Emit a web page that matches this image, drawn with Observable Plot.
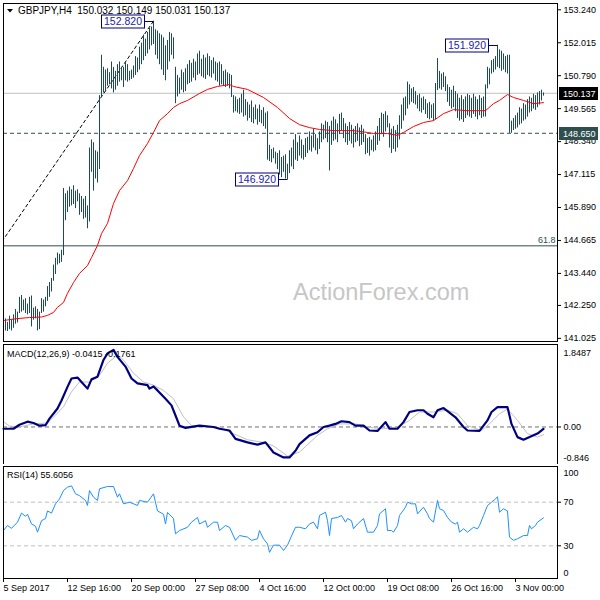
<!DOCTYPE html>
<html><head><meta charset="utf-8">
<script src="https://cdn.jsdelivr.net/npm/d3@7"></script>
<script src="https://cdn.jsdelivr.net/npm/@observablehq/plot@0.6"></script>
<style>
body{margin:0;background:#fff;}
#chart{position:relative;width:600px;height:600px;background:#fff;overflow:hidden;}
#chart svg{position:absolute;left:0;}
</style></head><body><div id="chart"></div>
<script>
// ---------- DATA ----------
const symbolTitle = "GBPJPY,H4  150.032 150.149 150.031 150.137";
const macdTitle = "MACD(12,26,9) -0.0415 -0.1761";
const rsiTitle = "RSI(14) 55.6056";

const highs = [
141.55,141.75,141.62,141.85,141.70,141.90,142.10,142.00,142.55,142.62,
142.45,142.50,142.30,142.55,142.60,142.15,142.20,142.10,142.00,142.50,
142.45,142.55,142.95,143.10,143.25,143.75,144.00,144.20,144.15,144.30,
146.60,146.40,146.50,146.65,146.55,146.70,146.50,146.55,146.40,146.30,
146.20,146.30,145.95,148.10,148.40,148.30,148.00,147.95,150.05,151.55,
151.10,151.00,151.05,150.90,151.30,151.10,150.95,151.20,151.30,151.10,
151.10,151.30,151.20,150.95,151.00,151.15,151.50,151.45,151.85,152.00,
152.30,152.15,152.40,152.55,152.60,152.82,152.50,152.45,152.35,152.30,
152.20,151.90,152.10,152.40,152.35,152.20,151.10,150.80,150.70,151.00,
150.90,151.05,151.20,151.35,151.25,151.40,151.30,151.60,151.70,151.40,
151.55,151.45,151.60,151.50,151.35,151.45,151.30,151.25,151.30,151.20,
150.95,151.00,150.90,150.85,150.80,150.05,150.00,149.90,149.95,150.10,
150.25,149.90,149.80,149.70,149.85,149.60,149.70,149.55,149.70,149.50,
149.60,149.40,149.45,148.20,148.05,148.10,147.95,147.90,148.00,147.75,
147.80,147.85,147.50,148.00,148.10,148.40,148.60,148.30,148.55,148.40,
148.20,148.45,148.50,148.70,148.55,148.80,148.60,148.45,148.70,149.00,
148.95,149.10,149.05,148.90,149.10,149.25,149.15,149.00,149.35,149.40,
149.20,149.00,148.90,149.05,148.95,148.80,148.90,149.00,148.85,148.95,
148.80,148.60,148.45,148.50,148.40,148.55,148.70,148.90,149.20,149.40,
149.35,149.45,149.30,149.00,148.80,148.90,148.75,148.95,149.30,149.70,
149.95,150.00,150.55,150.45,150.30,150.35,150.20,150.05,150.10,149.95,
150.00,149.90,149.75,149.80,149.70,149.75,150.50,151.43,150.95,150.85,
150.90,150.75,150.45,150.35,150.25,150.40,150.20,150.10,149.95,150.05,
149.90,150.00,150.10,150.05,149.95,150.10,150.00,149.90,150.05,149.95,
150.00,150.45,151.10,151.05,151.35,151.40,151.50,151.92,151.75,151.70,
151.60,151.50,151.55,151.55,149.10,149.20,149.30,149.40,149.60,149.55,
149.75,149.70,149.90,150.00,149.95,150.10,150.05,150.15,150.20,150.25,
150.149];
const lows = [
141.22,141.30,141.28,141.35,141.30,141.40,141.55,141.60,141.95,142.00,
142.05,141.95,141.90,141.95,141.45,141.70,141.75,141.30,141.35,141.95,
142.00,142.20,142.40,142.55,142.75,143.15,143.40,143.75,143.80,143.85,
144.10,145.40,145.70,145.90,145.95,146.00,145.85,146.10,145.60,145.70,
145.45,145.50,145.10,145.35,147.20,146.50,146.95,146.80,147.30,149.98,
150.15,150.20,150.40,150.45,150.30,150.15,150.25,150.40,150.55,150.60,
150.35,150.60,150.55,150.60,150.65,150.70,150.80,150.90,151.00,151.20,
151.35,151.50,151.60,151.75,151.90,151.95,151.55,151.40,151.20,151.00,
150.80,150.60,151.00,151.30,151.55,151.40,149.75,150.00,150.10,150.25,
150.15,150.20,150.45,150.50,150.55,150.70,150.60,150.80,150.85,150.75,
150.70,150.65,150.80,150.75,150.70,150.85,150.60,150.55,150.40,150.45,
150.40,150.35,150.40,150.30,149.98,149.40,149.45,149.40,149.35,149.40,
149.25,149.30,149.10,149.20,149.05,149.00,149.15,148.95,149.05,149.00,
148.90,148.80,147.65,147.60,147.55,147.70,147.50,147.30,147.10,147.00,
147.20,146.95,146.92,147.15,147.40,147.30,147.65,147.60,147.80,147.70,
147.65,147.75,147.90,148.00,147.95,148.10,148.00,147.85,148.05,148.30,
148.40,148.45,148.30,147.25,148.20,148.35,148.40,148.30,148.60,148.75,
148.45,148.30,148.20,148.35,148.25,148.10,148.30,148.35,148.15,148.20,
148.30,147.85,147.90,147.80,148.00,147.95,148.00,148.20,148.35,148.60,
148.50,148.70,148.85,148.10,147.90,148.05,147.95,148.10,148.40,148.80,
149.10,149.30,149.55,149.70,149.80,149.75,149.70,149.55,149.45,149.40,
149.50,149.35,149.20,149.15,149.20,149.10,149.15,150.24,150.30,150.25,
150.35,150.20,149.80,149.65,149.55,149.60,149.45,149.20,149.10,149.15,
149.05,149.20,149.30,149.25,149.20,149.35,149.25,149.15,149.30,149.20,
149.25,149.25,150.30,150.45,150.85,150.90,151.00,151.10,151.05,150.95,
151.00,150.90,150.85,148.65,148.65,148.75,148.80,148.85,148.95,149.00,
149.10,149.15,149.25,149.40,149.45,149.55,149.50,149.60,149.70,149.85,
150.031];

const maBar = [0,7,13,19,22,25,27,30,32,35,38,42,44,47,49,52,55,58,62,65,68,72,75,78,82,85,88,92,98,102,107,113,115,122,130,137,143,148,153,158,165,175,182,185,192,197,200,205,210,215,220,225,232,241,245,248,252,255,260,265,270];
const maVal = [141.69,141.76,141.80,141.82,141.88,141.99,142.18,142.36,142.70,143.10,143.44,143.73,144.03,144.48,144.92,145.30,146.04,146.52,146.89,147.34,147.82,148.27,148.68,149.12,149.38,149.61,149.75,149.87,150.13,150.28,150.39,150.46,150.39,150.28,149.98,149.61,149.20,148.97,148.86,148.79,148.75,148.75,148.68,148.64,148.64,148.57,148.68,148.90,149.05,149.12,149.38,149.53,149.49,149.49,149.75,149.87,150.09,149.98,149.87,149.75,149.79];

const fibBar = [-50, 75];
const fibVal = [139.30, 152.82];
const fibLevel = 144.465;
const fibLabel = "61.8";
const bidPrice = 150.137;
const supportPrice = 148.650;
const priceTicks = [153.240,152.015,150.790,149.565,148.340,147.115,145.890,144.665,143.440,142.250,141.025];

const calloutBar = [75, 247, 142];
const calloutVal = [152.820, 151.920, 146.920];

const macdBar = [0,5,8,12,15,18,21,23,27,29,32,34,37,39,42,44,47,50,52,55,57,61,64,67,72,73,75,77,81,84,86,88,91,98,105,108,113,116,122,127,131,135,140,143,146,148,153,157,160,163,166,169,173,176,180,183,187,191,193,197,200,203,207,210,212,215,217,220,222,226,230,232,238,242,244,247,252,254,257,260,265,267,270];
const macdVal = [-0.04,-0.04,0.05,0.12,0.09,0.03,0.04,0.19,0.42,0.60,0.91,1.10,1.12,1.02,0.87,1.08,1.14,1.52,1.67,1.75,1.59,1.37,1.10,0.99,0.95,0.87,0.92,0.83,0.64,0.49,0.26,0.03,-0.02,0.03,0.00,-0.04,-0.08,-0.27,-0.35,-0.40,-0.35,-0.58,-0.69,-0.69,-0.54,-0.39,-0.19,-0.12,0.00,0.03,0.07,0.13,0.11,0.03,0.03,-0.08,-0.09,0.11,-0.04,-0.04,0.11,0.34,0.38,0.38,0.30,0.22,0.38,0.43,0.36,0.22,0.00,-0.08,-0.09,0.15,0.34,0.45,0.45,0.07,-0.23,-0.29,-0.19,-0.15,-0.0415];
const signalBar = [0,3,8,15,22,26,30,34,38,43,48,52,57,60,65,70,75,80,85,90,94,102,108,115,122,130,135,142,148,157,162,168,176,183,190,197,203,208,215,222,227,232,239,243,248,252,257,262,267,270];
const signalVal = [0.12,0.02,0.00,0.07,0.09,0.27,0.46,0.80,1.02,1.02,1.17,1.45,1.63,1.52,1.22,1.02,0.95,0.83,0.64,0.23,0.03,0.01,-0.02,-0.15,-0.29,-0.35,-0.43,-0.66,-0.57,-0.19,-0.04,0.07,0.07,-0.01,-0.04,-0.01,0.15,0.34,0.34,0.38,0.30,0.03,-0.08,0.07,0.30,0.41,0.15,-0.15,-0.23,-0.1761];
const macdTop = 1.8487, macdBottom = -0.846;

const rsiBar = [0,2,4,7,9,11,12,14,16,17,19,21,22,24,26,28,30,32,34,36,38,41,42,43,45,47,48,52,55,57,58,60,63,67,68,72,75,77,80,81,82,85,86,88,92,94,97,98,101,102,105,107,108,111,113,116,118,122,124,127,128,130,132,133,135,138,140,142,144,146,148,151,153,155,157,158,161,162,163,164,167,169,171,172,174,175,177,180,182,185,187,188,191,192,194,195,197,198,201,202,204,206,207,210,212,213,215,217,218,220,222,224,226,227,228,230,232,235,237,238,240,242,244,246,247,248,250,252,253,255,257,260,262,263,264,266,267,270];
const rsiVal = [44,48.6,46,51.7,60,57,59,50,48,42.5,53,55,62,60,68.5,73,80.7,83.8,85,77.7,76,71.6,67,80.7,74.6,71.6,82.3,84.4,84.4,74.6,77.7,68.5,70,67,71.6,70,77.7,62,59,50,60.6,55,41,44,47,51.7,56,50,53,47,51.7,51.7,44,48.6,47,35,39.4,38,35,36.4,44,36.4,31.8,24,30.6,30.6,25.7,30.6,39,47,47,45.6,50,51.7,45.6,57.8,60.8,53,39.4,55,56,57.8,51.7,55,53,45.6,50,55,42.5,42.5,48.6,59.3,64,44,44,42.5,48.6,57.8,65.4,70,68.5,68.5,59.3,65.4,59.3,55,51.7,71.6,64,62.4,56,51.7,50,51.7,42.5,45.6,42.5,47,45.6,48.6,57.8,67,70,73,75,60.8,64,62,38,35,36.4,39.4,39.4,48.6,45.6,48.6,51.7,55.6];
const rsiLevels = [70, 30];

const dateBars = [0,32,64,96,128,160,192,224,256];
const dateLabels = ["5 Sep 2017","12 Sep 16:00","20 Sep 00:00","27 Sep 08:00","4 Oct 16:00","12 Oct 00:00","19 Oct 08:00","26 Oct 16:00","3 Nov 00:00"];

// ---------- BUILD ----------
const FONT = "'Liberation Sans', Arial, sans-serif";
const BAR = "#1b4a63";
const zip = (a, b) => a.map((k, j) => ({i: k, v: b[j]}));
const bars = highs.map((h, i) => ({i, high: h, low: lows[i]}));
const ma = zip(maBar, maVal);
const fib = zip(fibBar, fibVal);
const macd = zip(macdBar, macdVal);
const signal = zip(signalBar, signalVal);
const rsi = zip(rsiBar, rsiVal);

const common = {
  width: 600, marginLeft: 3, marginRight: 43,
  x: {domain: [0, 277], axis: null},
  style: {fontFamily: FONT, fontSize: "9px", background: "transparent", color: "black"}
};

const root = document.getElementById("chart");

// Price panel
const pricePlot = Plot.plot({
  ...common, height: 343, marginTop: 3, marginBottom: 2,
  y: {domain: [140.909, 153.474], axis: null},
  marks: [
    Plot.ruleY([fibLevel], {stroke: "#2f4f4f"}),
    Plot.text([fibLevel], {y: d => d, text: () => fibLabel, frameAnchor: "right", textAnchor: "end", dx: -2, dy: -6, fill: "#2f4f4f"}),
    Plot.ruleY([bidPrice], {stroke: "#c0c0c0"}),
    Plot.ruleY([supportPrice], {stroke: "#2f4f4f", strokeDasharray: "4,3"}),
    Plot.line(fib, {x: "i", y: "v", stroke: "black", strokeWidth: 1, strokeDasharray: "3,3", clip: true}),
    Plot.ruleX(bars, {x: "i", y1: "low", y2: "high", stroke: BAR}),
    Plot.line(ma, {x: "i", y: "v", stroke: "#ff0000", strokeWidth: 1}),
    Plot.frame({stroke: "black"}),
    Plot.axisY({anchor: "right", label: null, ticks: priceTicks, tickFormat: d => d.toFixed(3), tickSize: 3, tickPadding: 3})
  ]
});
pricePlot.style.top = "0px";
root.appendChild(pricePlot);

{
  const svg = d3.select(pricePlot);
  const xs = pricePlot.scale("x"), ys = pricePlot.scale("y");
  // watermark
  svg.insert("text", ":first-child").attr("x", 293).attr("y", 300).attr("text-anchor", "start")
    .attr("font-size", 23.5).attr("fill", "#c6c6c6").text("ActionForex.com");
  // title
  svg.append("path").attr("d", "M7,9L13,9L10,12.5Z").attr("fill", "black");
  svg.append("text").attr("x", 18).attr("y", 14).attr("font-size", 10).attr("text-anchor", "start")
    .style("white-space", "pre").text(symbolTitle);
  // callouts
  calloutBar.forEach((b, k) => {
    const bx = Math.round(xs.apply(b)) + 0.5;
    const by = Math.round(ys.apply(calloutVal[k])) + 0.5;
    const right = bx - 9;
    svg.append("path").attr("d", `M${right},${by}H${bx}`).attr("stroke", "#000080").attr("fill", "none");
    svg.append("rect").attr("x", right - 43).attr("y", by - 6.5).attr("width", 43).attr("height", 13)
      .attr("fill", "white").attr("stroke", "#000080");
    svg.append("text").attr("x", right - 21.5).attr("y", by).attr("dy", "0.36em")
      .attr("text-anchor", "middle").attr("font-size", 10.5).attr("fill", "#2222aa")
      .text(calloutVal[k].toFixed(3));
  });
  // price boxes on axis
  [[bidPrice, "#000000"], [supportPrice, "#2f4f4f"]].forEach(([p, bg]) => {
    const by = Math.round(ys.apply(p));
    svg.append("rect").attr("x", 559).attr("y", by - 6).attr("width", 39).attr("height", 13).attr("fill", bg);
    svg.append("text").attr("x", 563).attr("y", by + 0.5).attr("dy", "0.36em").attr("text-anchor", "start")
      .attr("fill", "white").text(p.toFixed(3));
  });
}

// MACD panel
const macdPlot = Plot.plot({
  ...common, height: 122, marginTop: 2, marginBottom: 0,
  y: {domain: [-0.851, 1.871], axis: null},
  marks: [
    Plot.ruleY([0], {stroke: "#707070", strokeDasharray: "4,3"}),
    Plot.line(signal, {x: "i", y: "v", stroke: "#c0c0c0", strokeWidth: 1}),
    Plot.line(macd, {x: "i", y: "v", stroke: "#000080", strokeWidth: 2.2}),
    Plot.frame({stroke: "black"}),
    Plot.axisY({anchor: "right", label: null, ticks: [0], tickFormat: () => "0.00", tickSize: 3, tickPadding: 3}),
    Plot.text([macdTop], {y: d => d, text: d => d.toFixed(4), frameAnchor: "right", textAnchor: "start", dx: 6, dy: 8}),
    Plot.text([macdBottom], {y: d => d, text: d => d.toFixed(3), frameAnchor: "right", textAnchor: "start", dx: 6, dy: -6})
  ]
});
macdPlot.style.top = "342px";
root.appendChild(macdPlot);
d3.select(macdPlot).append("text").attr("x", 7).attr("y", 15).attr("text-anchor", "start").text(macdTitle);

// RSI panel
const rsiPlot = Plot.plot({
  ...common, height: 136, marginTop: 2, marginBottom: 22,
  y: {domain: [0, 102.75], axis: null},
  marks: [
    Plot.ruleY(rsiLevels, {stroke: "#c0c0c0", strokeDasharray: "4,3"}),
    Plot.line(rsi, {x: "i", y: "v", stroke: "#1e90ff", strokeWidth: 1}),
    Plot.frame({stroke: "black"}),
    Plot.axisY({anchor: "right", label: null, ticks: rsiLevels, tickFormat: d => String(d), tickSize: 3, tickPadding: 3}),
    Plot.text([100], {y: d => d, text: d => String(d), frameAnchor: "right", textAnchor: "start", dx: 6, dy: 4}),
    Plot.text([0], {y: d => d, text: d => String(d), frameAnchor: "right", textAnchor: "start", dx: 6, dy: -5}),
    Plot.axisX({anchor: "bottom", label: null, ticks: dateBars, tickFormat: d => dateLabels[dateBars.indexOf(d)], tickSize: 4, tickPadding: 2, textAnchor: "start"})
  ]
});
rsiPlot.style.top = "464px";
root.appendChild(rsiPlot);
d3.select(rsiPlot).append("text").attr("x", 7).attr("y", 14).attr("text-anchor", "start").text(rsiTitle);
</script></body></html>
